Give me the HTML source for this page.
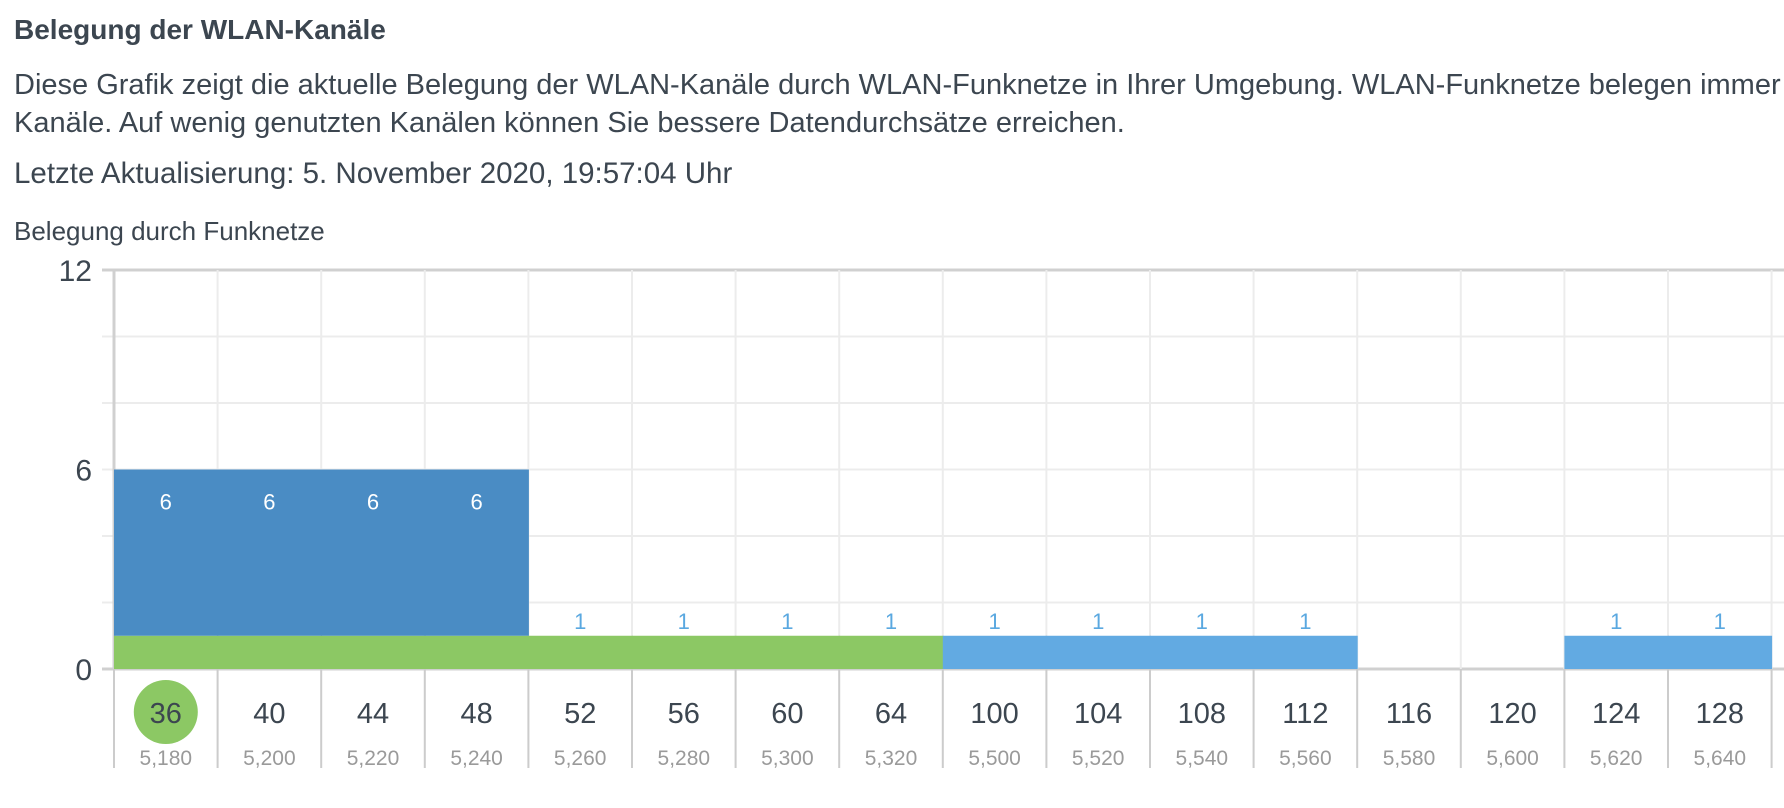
<!DOCTYPE html>
<html><head><meta charset="utf-8">
<style>
body{margin:0;width:1784px;height:808px;overflow:hidden;background:#fff;font-family:"Liberation Sans",sans-serif;color:#3c4650;}
.t{position:absolute;left:14px;white-space:nowrap;}
</style></head><body>
<div class="t" style="top:14px;font-size:28px;font-weight:bold;">Belegung der WLAN-Kanäle</div>
<div class="t" style="top:66px;font-size:29px;line-height:38px;width:1770px;overflow:hidden;">Diese Grafik zeigt die aktuelle Belegung der WLAN-Kanäle durch WLAN-Funknetze in Ihrer Umgebung. WLAN-Funknetze belegen immer mehrere<br>Kanäle. Auf wenig genutzten Kanälen können Sie bessere Datendurchsätze erreichen.</div>
<div class="t" style="top:157px;font-size:29.5px;">Letzte Aktualisierung: 5. November 2020, 19:57:04 Uhr</div>
<div class="t" style="top:216px;font-size:26px;">Belegung durch Funknetze</div>
<svg id="chart" width="1784" height="808" style="position:absolute;left:0;top:0;"></svg>
<script>
const channels=["36","40","44","48","52","56","60","64","100","104","108","112","116","120","124","128"];
const freqs=["5,180","5,200","5,220","5,240","5,260","5,280","5,300","5,320","5,500","5,520","5,540","5,560","5,580","5,600","5,620","5,640"];
const neighbors=[6,6,6,6,1,1,1,1,1,1,1,1,0,0,1,1];
const own=[1,1,1,1,1,1,1,1,0,0,0,0,0,0,0,0];
const yTicks=[0,6,12];
const yGrid=[0,2,4,6,8,10,12];
const ownChannel="36";

const svg=document.getElementById('chart');
const NS='http://www.w3.org/2000/svg';
const plotLeft=114,colW=103.6,plotTop=270,zero=669,yMax=12;
const x=i=>plotLeft+i*colW;
const y=v=>zero-(zero-plotTop)*v/yMax;
function mk(tag,attrs,txt){const e=document.createElementNS(NS,tag);for(const k in attrs)e.setAttribute(k,attrs[k]);if(txt!=null)e.textContent=txt;svg.appendChild(e);return e;}

yGrid.forEach(v=>{
  const g=mk('line',{x1:plotLeft-12,x2:1784,y1:y(v),y2:y(v),stroke:v===0||v===12?'#d0d0d0':'#ececec','stroke-width':v===0||v===12?3:2});
  
  
});
for(let i=0;i<=channels.length;i++){
  const g=mk('line',{x1:x(i),x2:x(i),y1:plotTop,y2:zero,stroke:i===0?'#d0d0d0':'#ececec','stroke-width':i===0?3:2});
  
  
  const t=mk('line',{x1:x(i),x2:x(i),y1:zero,y2:768,stroke:'#cccccc','stroke-width':2});
  
  
}
yTicks.forEach(v=>{
  const t=mk('text',{x:92,y:y(v)+11,'text-anchor':'end','font-size':30,fill:'#3c4650'},v);
  
  
});
channels.forEach((c,i)=>{
  const n=neighbors[i],o=own[i];
  if(o>0){
    const r=mk('rect',{x:x(i),y:y(o),width:colW+0.5,height:zero-y(o),fill:'#8cc864'});
    
    
  }
  if(n>o){
    const r=mk('rect',{x:x(i),y:y(n),width:colW+0.5,height:y(o)-y(n),fill:o>0?'#4a8cc4':'#62aae2'});
    
    
  }
  if(n>0){
    const inside=n>1;
    const l=mk('text',{x:x(i)+colW/2,y:inside?y(n)+40:y(n)-7,'text-anchor':'middle','font-size':22,fill:inside?'#ffffff':'#5aa8e0'},n);
    
    
  }
  if(c===ownChannel){
    const ci=mk('circle',{cx:x(i)+colW/2,cy:712,r:32,fill:'#8cc864'});
    
    
  }
  const ct=mk('text',{x:x(i)+colW/2,y:723,'text-anchor':'middle','font-size':29,fill:'#3c4650'},c);
  
  
  const ft=mk('text',{x:x(i)+colW/2,y:765,'text-anchor':'middle','font-size':21,fill:'#9a9a9a'},freqs[i]);
  
  
});
</script>
</body></html>
